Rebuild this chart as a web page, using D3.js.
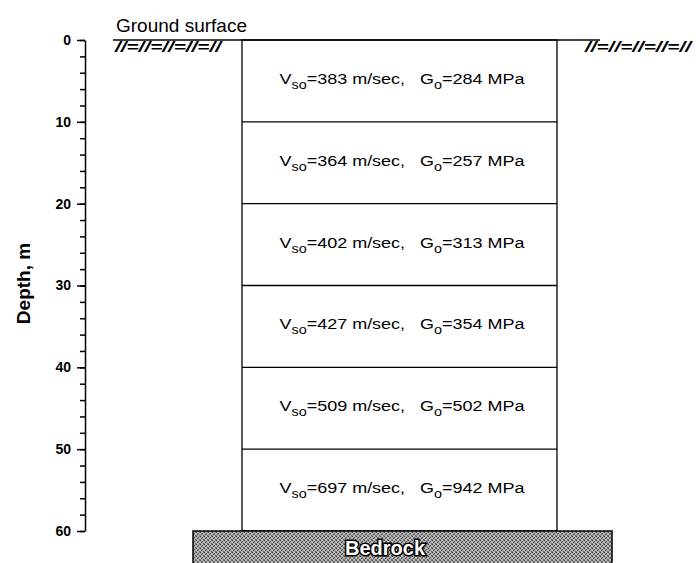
<!DOCTYPE html>
<html>
<head>
<meta charset="utf-8">
<script src="https://cdnjs.cloudflare.com/ajax/libs/d3/7.8.5/d3.min.js"></script>
<style>
  body { margin: 0; background: #fff; }
  svg { display: block; font-family: Arial, "Liberation Sans", sans-serif; }
  .axis path, .axis line { stroke: #000; stroke-width: 1.5px; }
  .axis text { font-size: 14px; font-weight: bold; fill: #000; }
  .layer line, .layer rect { stroke: #000; stroke-width: 1.3px; }
  .layer text { font-size: 15px; }
</style>
</head>
<body>
<div id="chart"></div>
<script>
(function(){

  // soil layers (depth in m)
  var layerTop    = [0, 10, 20, 30, 40, 50];
  var layerBottom = [10, 20, 30, 40, 50, 60];
  var vso = [383, 364, 402, 427, 509, 697];   // m/sec
  var go  = [284, 257, 313, 354, 502, 942];   // MPa

  var majorTicks = [0, 10, 20, 30, 40, 50, 60];
  var minorTicks = d3.range(0, 61, 2);

  var width = 696, height = 563;

  var y = d3.scaleLinear().domain([0, 60]).range([40, 531]);

  var svg = d3.select('#chart')
    .append('svg')
      .attr('width', width)
      .attr('height', height);

  // speckled grey for the bedrock
  var defs = svg.append('defs');
  var pat = defs.append('pattern')
      .attr('id', 'stipple')
      .attr('patternUnits', 'userSpaceOnUse')
      .attr('width', 4).attr('height', 4);
  pat.append('rect').attr('width', 4).attr('height', 4).attr('fill', '#bdbdbd');
  [[0,0,'#444'],[2,1,'#555'],[1,2,'#4a4a4a'],[3,3,'#666'],[3,0,'#777'],[1,1,'#888'],[0,3,'#777'],[2,2,'#8a8a8a']]
    .forEach(function(p){
      pat.append('rect').attr('x', p[0]).attr('y', p[1]).attr('width', 1).attr('height', 1).attr('fill', p[2]);
    });

  // y axis: minor then major
  svg.append('g')
    .attr('class', 'axis')
    .attr('transform', 'translate(85,0)')
    .call(d3.axisLeft(y).tickValues(minorTicks).tickSize(5).tickFormat(''))
    .call(function(g){ g.select('.domain').remove(); });

  svg.append('g')
    .attr('class', 'axis')
    .attr('transform', 'translate(85,0)')
    .call(d3.axisLeft(y).tickValues(majorTicks).tickSize(8).tickSizeOuter(0).tickPadding(6).tickFormat(d3.format('d')));

  svg.append('text')
    .attr('transform', 'translate(30,' + (y(30) - 2) + ') rotate(-90)')
    .attr('text-anchor', 'middle')
    .style('font-size', '19px')
    .style('font-weight', 'bold')
    .text('Depth, m');

  // ground surface
  svg.append('text')
    .attr('x', 116).attr('y', 32)
    .style('font-size', '19px')
    .text('Ground surface');

  svg.append('line')
    .attr('x1', 113).attr('x2', 600)
    .attr('y1', y(0)).attr('y2', y(0))
    .attr('stroke', '#000').attr('stroke-width', 1.3);

  [115, 585].forEach(function(x0){
    svg.append('text')
      .attr('x', x0).attr('y', y(0) + 12)
      .attr('textLength', 106)
      .attr('lengthAdjust', 'spacingAndGlyphs')
      .style('font-size', '14px')
      .style('font-style', 'italic')
      .style('font-weight', 'bold')
      .text('//=//=//=//=//');
  });

  // soil column
  var x0 = 242, x1 = 557;
  var layer = svg.append('g').attr('class', 'layer');

  layer.append('rect')
    .attr('x', x0).attr('y', y(0))
    .attr('width', x1 - x0).attr('height', y(60) - y(0))
    .attr('fill', 'none');

  layer.selectAll('line.sep')
    .data(layerTop.slice(1))
    .enter().append('line')
      .attr('class', 'sep')
      .attr('x1', x0).attr('x2', x1)
      .attr('y1', function(d){ return y(d); })
      .attr('y2', function(d){ return y(d); });

  var labels = layer.selectAll('text.lbl')
    .data(layerTop.map(function(d, i){ return { top: d, bot: layerBottom[i], v: vso[i], g: go[i] }; }))
    .enter().append('text')
      .attr('class', 'lbl')
      .attr('transform', function(d){
        return 'translate(402,' + ((y(d.top) + y(d.bot)) / 2 + 3) + ') scale(1.2,1)';
      })
      .attr('text-anchor', 'middle')
      .attr('xml:space', 'preserve');

  labels.each(function(d){
    var t = d3.select(this);
    t.append('tspan').text('V');
    t.append('tspan').attr('dy', 5).style('font-size', '12px').text('so');
    t.append('tspan').attr('dy', -5).text('=' + d.v + ' m/sec,   G');
    t.append('tspan').attr('dy', 5).style('font-size', '12px').text('o');
    t.append('tspan').attr('dy', -5).text('=' + d.g + ' MPa');
  });

  // bedrock
  svg.append('rect')
    .attr('x', 193).attr('y', y(60))
    .attr('width', 612 - 193).attr('height', 40)
    .attr('fill', 'url(#stipple)')
    .attr('stroke', '#000').attr('stroke-width', 1.5);

  svg.append('text')
    .attr('x', 385).attr('y', y(60) + 24)
    .attr('text-anchor', 'middle')
    .style('font-size', '20px')
    .style('font-weight', 'bold')
    .style('fill', '#fff')
    .style('stroke', '#000')
    .style('stroke-width', 3)
    .style('paint-order', 'stroke')
    .text('Bedrock');

})();
</script>
</body>
</html>
